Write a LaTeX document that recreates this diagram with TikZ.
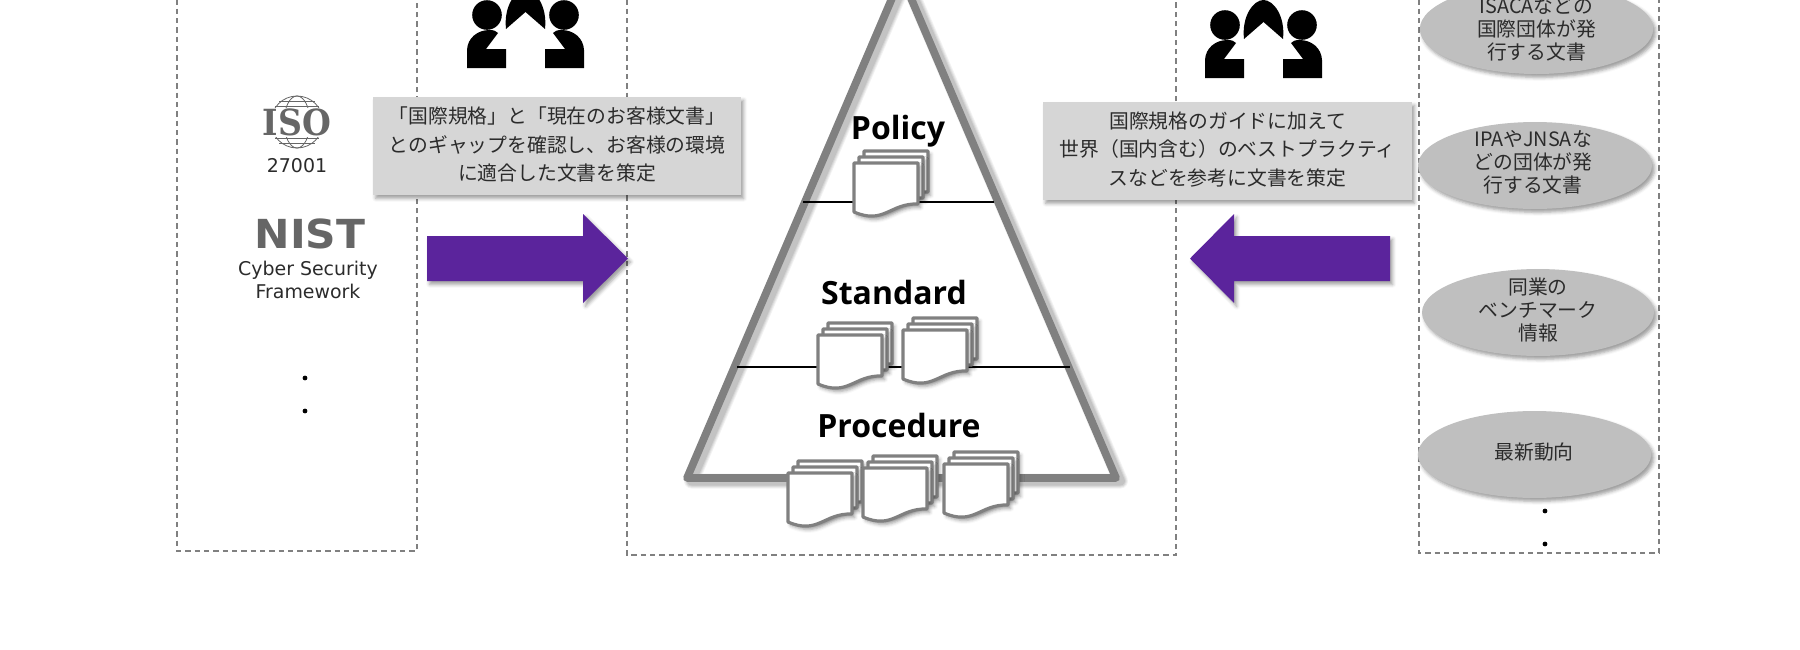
\documentclass[tikz,border=0pt]{standalone}
\usepackage{fontspec}
\usetikzlibrary{shadows.blur,shapes.geometric}
\setmainfont{DejaVu Sans}
\newfontfamily\jpfont{Noto Sans CJK JP}
\newfontfamily\headfont{Open Sans}
\newfontfamily\isofont{DejaVu Serif}
\definecolor{edgegray}{HTML}{808080}
\definecolor{boxgray}{HTML}{D6D6D6}
\definecolor{ovalgray}{HTML}{BFBFBF}
\definecolor{inkgray}{HTML}{2B2B2B}
\definecolor{royal}{HTML}{5B249C}
\definecolor{logogray}{HTML}{666666}
\tikzset{
  softshadow/.style={blur shadow={shadow xshift=2pt,shadow yshift=-2.5pt,shadow blur radius=2.6pt,shadow opacity=38}},
  framebox/.style={draw=edgegray,line width=1.1pt,dash pattern=on 4pt off 3pt},
  notebox/.style={rectangle,fill=boxgray,inner sep=0pt,softshadow},
  notetext/.style={inner sep=0pt,text=inkgray,align=center,font=\jpfont\fontsize{14.85}{21.3}\selectfont},
  oval/.style={ellipse,fill=ovalgray,inner sep=0pt,softshadow},
  ovaltext/.style={text=inkgray,align=center,inner sep=0pt,font=\jpfont\fontsize{14.85}{17.3}\selectfont},
  fatarrow/.style={fill=royal,softshadow},
  heading/.style={inner sep=0pt,font=\headfont\bfseries\fontsize{24}{26}\selectfont},
  latin/.style={inner sep=0pt,text=inkgray,align=center,font=\fontsize{14.2}{17.2}\selectfont},
  sheet/.style={draw=edgegray,line width=2.4pt,fill=white,line join=round,softshadow},
  divider/.style={draw=black,line width=1.7pt},
  dot/.style={circle,fill=black,inner sep=0pt,minimum size=3.6pt},
  person/.style={fill=black,draw=none},
  docstack/.pic={
    \foreach \dd in {2,1,0}{
      \path[sheet,shift={(5*\dd,-6*\dd)}] (0,0)--(64,0)--(64,41) .. controls (36,40) and (30,62) .. (0,49) -- cycle;
    }
  },
  people/.pic={
    \fill[person] (-38.5,-53) circle[radius=14.8];
    \fill[person] (38.5,-53) circle[radius=14.8];
    \fill[person] (-19.5,-39) .. controls (-22,-62) and (-10,-78) .. (0,-78) .. controls (10,-78) and (22,-62) .. (19.5,-39) -- (0,-56) -- cycle;
    \fill[person] (-58.5,0) -- (-58.5,-18) .. controls (-58,-30) and (-48,-38) .. (-36,-38) .. controls (-32,-38) and (-29,-37) .. (-27.5,-35) -- (-39.5,-19) -- (-19.5,-19) -- (-19.5,0) -- cycle;
    \fill[person] (58.5,0) -- (58.5,-18) .. controls (58,-30) and (48,-38) .. (36,-38) .. controls (32,-38) and (29,-37) .. (27.5,-35) -- (39.5,-19) -- (19.5,-19) -- (19.5,0) -- cycle;
  }
}
\begin{document}
\begin{tikzpicture}[x=0.75pt,y=-0.75pt]
\useasboundingbox (0,0) rectangle (1800,650);
% frames
\draw[framebox] (177,-10) -- (177,551) -- (417,551) -- (417,-10);
\draw[framebox] (627,-10) -- (627,555) -- (1176,555) -- (1176,-10);
\draw[framebox] (1419,-10) -- (1419,553) -- (1659,553) -- (1659,-10);
% pyramid shadow
\foreach \w/\o in {15/.05,13/.06,11/.07,9/.08}{
  \draw[black,opacity=\o,line width=\w*0.75pt,line join=round] (691.5,481) -- (906,-21) -- (1120.5,481) -- cycle;
}
\draw[draw=edgegray,line width=5.8pt,line join=round] (687,478) -- (901.5,-24) -- (1116,478) -- cycle;
\coordinate (polL) at (803,202); \coordinate (polR) at (994,202);
\coordinate (stdL) at (737,367); \coordinate (stdR) at (1070,367);
\draw[divider] (polL) -- (polR);
\draw[divider] (stdL) -- (stdR);
\node[heading] (policy) at (898,131.5) {Policy};
\node[heading] (standard) at (894,292) {Standard};
\node[heading] (procedure) at (899,425) {Procedure};
\pic at (854,163) {docstack};
\pic at (818,335) {docstack};
\pic at (903,330) {docstack};
\pic at (788,473) {docstack};
\pic at (863,468) {docstack};
\pic at (944,464) {docstack};
% people
\pic at (525.5,68) {people};
\pic at (1263.5,78) {people};
% arrows
\path[fatarrow] (427,236) -- (583,236) -- (583,214) -- (628,258.5) -- (583,303) -- (583,281) -- (427,281) -- cycle;
\path[fatarrow] (1390,236) -- (1234,236) -- (1234,214) -- (1190,258.5) -- (1234,303) -- (1234,281) -- (1390,281) -- cycle;
% notes
\node[notebox,minimum width=276pt,minimum height=73.5pt] (noteL) at (557,146) {};
\node[notetext] (noteLtext) at (557,144.5) {「国際規格」と「現在のお客様文書」\\とのギャップを確認し、お客様の環境\\に適合した文書を策定};
\node[notebox,minimum width=276.7pt,minimum height=73.5pt] (noteR) at (1227.5,151) {};
\node[notetext] (noteRtext) at (1227.5,149.5) {国際規格のガイドに加えて\\世界（国内含む）のベストプラクティ\\スなどを参考に文書を策定};
% ovals
\node[oval,minimum width=175pt,minimum height=67.5pt] (ovalA) at (1536.5,29) {};
\node[oval,minimum width=175.5pt,minimum height=65.2pt] (ovalB) at (1535,165.5) {};
\node[oval,minimum width=174pt,minimum height=65.2pt] (ovalC) at (1538,312.5) {};
\node[oval,minimum width=175pt,minimum height=65.2pt] (ovalD) at (1534.5,454.5) {};
\node[ovaltext] (textA) at (ovalA) {ISACAなどの\\国際団体が発\\行する文書};
\node[ovaltext] (textB) at (1533,162.5) {IPAやJNSAな\\どの団体が発\\行する文書};
\node[ovaltext] (textC) at (1538,310) {同業の\\ベンチマーク\\情報};
\node[ovaltext] (textD) at (1534,452) {最新動向};
\node[dot] (dotR1) at (1545,511) {};
\node[dot] (dotR2) at (1545,544) {};
% left column
\begin{scope}[draw=logogray,line width=0.6pt]
  \draw (297,122) circle[radius=26];
  \draw (297,122) ellipse[x radius=13,y radius=26];
  \draw (271,122) -- (323,122);
  \draw (275,106) -- (319,106);
  \draw (279,101) -- (315,101);
  \draw (275,138) -- (319,138);
  \draw (279,143) -- (315,143);
\end{scope}
\fill[white] (258,108) rectangle (336,137);
\node[inner sep=0pt,text=logogray,xscale=0.92,font=\isofont\bfseries\fontsize{27}{28}\selectfont] (iso) at (297,122.5) {ISO};
\node[latin] (isonum) at (297,165.5) {27001};
\node[inner sep=0pt,text=logogray,xscale=1.06,font=\bfseries\fontsize{30}{31}\selectfont] (nist) at (310,234) {NIST};
\node[latin] (csf) at (308,279.5) {Cyber Security\\Framework};
\node[dot] (dotL1) at (305,378) {};
\node[dot] (dotL2) at (305,411) {};
\end{tikzpicture}
\end{document}
